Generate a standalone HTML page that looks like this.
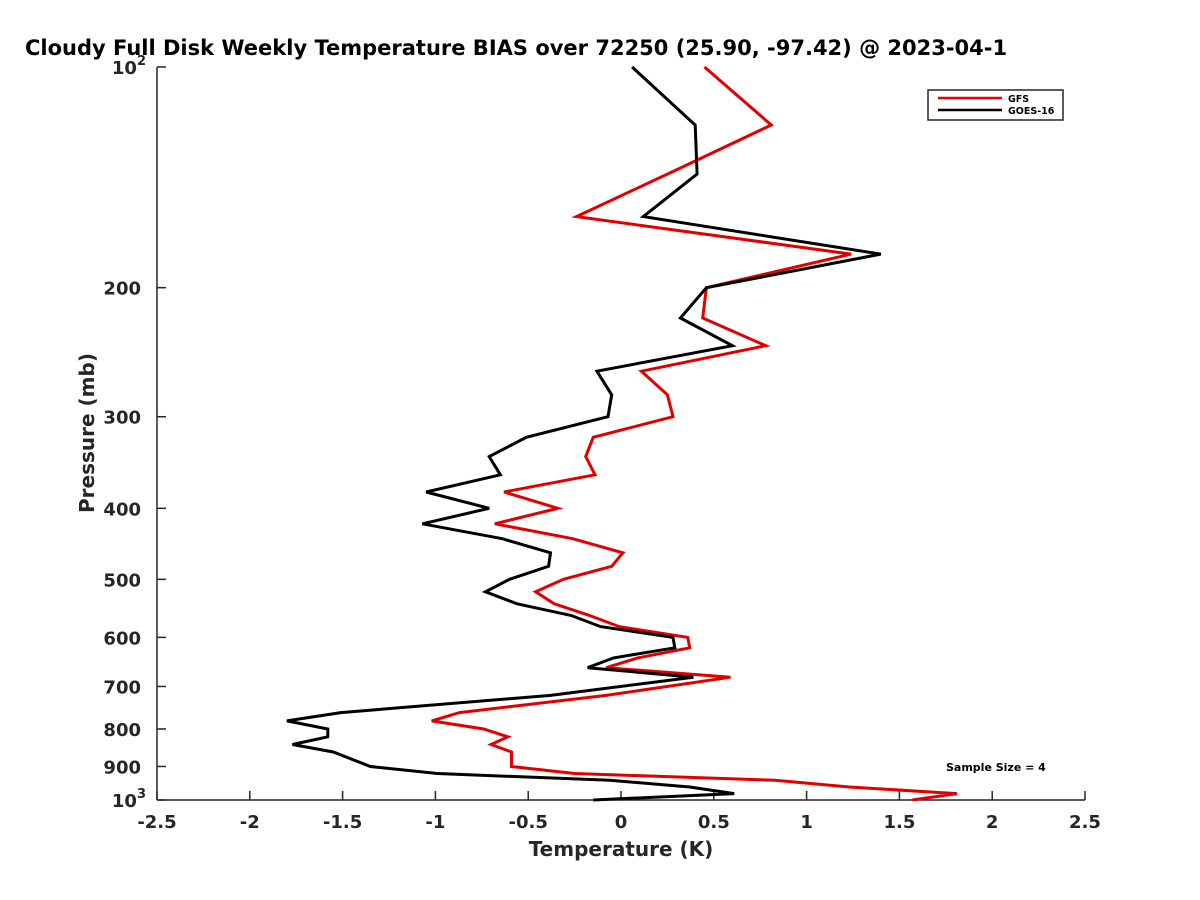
<!DOCTYPE html>
<html><head><meta charset="utf-8"><style>
body{margin:0;background:#fff;}
svg{display:block;font-family:"DejaVu Sans","Liberation Sans",sans-serif;}
</style></head><body>
<svg id="chart" width="1200" height="900" viewBox="0 0 1200 900">
<rect width="1200" height="900" fill="#fff"/>
<text x="25" y="55" font-size="21" font-weight="bold" fill="#000">Cloudy Full Disk Weekly Temperature BIAS over 72250 (25.90, -97.42) @ 2023-04-1</text>
<g id="axes"></g>
<g id="series"></g>
<g>
<rect x="928" y="90" width="135" height="30" fill="#fff" stroke="#262626" stroke-width="1.5"/>
<line x1="938" y1="98" x2="1002" y2="98" stroke="#e00" stroke-width="2.5"/>
<text x="1008" y="102" font-size="9.5" font-weight="bold">GFS</text>
<line x1="938" y1="110" x2="1002" y2="110" stroke="#000" stroke-width="2.5"/>
<text x="1008" y="114" font-size="9.5" font-weight="bold">GOES-16</text>
</g>
<text x="946" y="771" font-size="11" font-weight="bold">Sample Size = 4</text>
<text x="621" y="856" font-size="20" font-weight="bold" fill="#262626" text-anchor="middle">Temperature (K)</text>
<text transform="translate(94,433) rotate(-90)" font-size="20" font-weight="bold" fill="#262626" text-anchor="middle">Pressure (mb)</text>
</svg>
<script>
const pressures = [100,120,140,160,180,200,220,240,260,280,300,320,340,360,380,400,420,440,460,480,500,520,540,560,580,600,620,640,660,680,720,760,780,800,820,840,860,900,920,940,960,980,1000];
const goesBias = [0.06,0.40,0.41,0.12,1.40,0.46,0.32,0.60,-0.13,-0.05,-0.07,-0.51,-0.71,-0.65,-1.05,-0.71,-1.07,-0.64,-0.38,-0.39,-0.60,-0.73,-0.56,-0.27,-0.11,0.28,0.29,-0.04,-0.18,0.39,-0.38,-1.51,-1.80,-1.58,-1.58,-1.77,-1.55,-1.35,-0.99,-0.06,0.37,0.61,-0.15];
const gfsBias = [0.45,0.81,0.25,-0.24,1.24,0.46,0.44,0.78,0.11,0.25,0.28,-0.15,-0.19,-0.14,-0.63,-0.34,-0.68,-0.26,0.01,-0.05,-0.31,-0.46,-0.36,-0.17,-0.01,0.36,0.37,0.09,-0.08,0.59,-0.08,-0.87,-1.02,-0.74,-0.61,-0.70,-0.59,-0.59,-0.25,0.83,1.23,1.81,1.57];
const xTicks = [-2.5,-2,-1.5,-1,-0.5,0,0.5,1,1.5,2,2.5];
const xTickLabels = ["-2.5","-2","-1.5","-1","-0.5","0","0.5","1","1.5","2","2.5"];
const yTicks = [100,200,300,400,500,600,700,800,900,1000];
const yTickLabels = ["10^2","200","300","400","500","600","700","800","900","10^3"];

const NS="http://www.w3.org/2000/svg";
const X0=157,X1=1085,Y0=67,Y1=800;
function xs(v){return X0+(v+2.5)/5*(X1-X0);}
function ys(p){return Y0+Math.log10(p/100)*(Y1-Y0);}
function mk(tag,attrs,parent){const e=document.createElementNS(NS,tag);for(const k in attrs)e.setAttribute(k,attrs[k]);parent.appendChild(e);return e;}
const axes=document.getElementById('axes');
const series=document.getElementById('series');
let l=mk('line',{x1:X0,y1:Y0,x2:X0,y2:Y1,stroke:'#262626','stroke-width':1.5},axes);


l=mk('line',{x1:X0,y1:Y1,x2:X1,y2:Y1,stroke:'#262626','stroke-width':1.5},axes);


xTicks.forEach((v,i)=>{
  const t=mk('line',{x1:xs(v),y1:Y1,x2:xs(v),y2:Y1-9,stroke:'#262626','stroke-width':1.5},axes);
  
  
  const tx=mk('text',{x:xs(v),y:Y1+28,'font-size':18,'font-weight':'bold',fill:'#262626','text-anchor':'middle'},axes);
  tx.textContent=xTickLabels[i];
  
  
});
yTicks.forEach((p,i)=>{
  const y=ys(p);
  const t=mk('line',{x1:X0,y1:y,x2:X0+9,y2:y,stroke:'#262626','stroke-width':1.5},axes);
  
  
  const lab=yTickLabels[i];
  const tx=mk('text',{x:141,y:y+7,'font-size':18,'font-weight':'bold',fill:'#262626','text-anchor':'end'},axes);
  if(lab.indexOf('^')>=0){
    const parts=lab.split('^');
    tx.setAttribute('x',146);
    tx.appendChild(document.createTextNode(parts[0]));
    const sup=mk('tspan',{dy:-9,'font-size':13},tx);
    sup.textContent=parts[1];
  } else tx.textContent=lab;
  
  
});
function drawLine(vals,color,name){
  const pts=vals.map((v,i)=>xs(v).toFixed(1)+','+ys(pressures[i]).toFixed(1)).join(' ');
  const pl=mk('polyline',{points:pts,fill:'none',stroke:color,'stroke-width':3,'stroke-linejoin':'miter'},series);
  
  
}
drawLine(gfsBias,'#e00000','gfs-bias-line');
drawLine(goesBias,'#000000','goes16-bias-line');
</script>
</body></html>
